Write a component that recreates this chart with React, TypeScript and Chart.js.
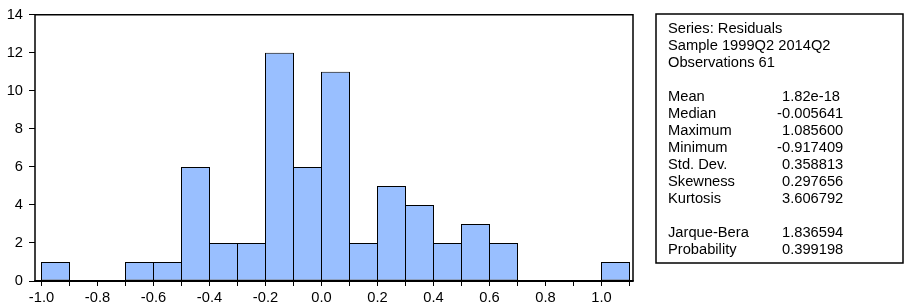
import React, { useEffect, useRef } from "react";
import { Chart, registerables } from "chart.js";

Chart.register(...registerables);

// ---- data ----
const binStarts = [-1.0, -0.9, -0.8, -0.7, -0.6, -0.5, -0.4, -0.3, -0.2, -0.1, 0.0, 0.1, 0.2, 0.3, 0.4, 0.5, 0.6, 0.7, 0.8, 0.9, 1.0];
const counts = [1, 0, 0, 1, 1, 6, 2, 2, 12, 6, 11, 2, 5, 4, 2, 3, 2, 0, 0, 0, 1];
const binWidth = 0.1;
const xTickValues = [-1.0, -0.9, -0.8, -0.7, -0.6, -0.5, -0.4, -0.3, -0.2, -0.1, 0.0, 0.1, 0.2, 0.3, 0.4, 0.5, 0.6, 0.7, 0.8, 0.9, 1.0, 1.1];
const xLabelValues = [-1.0, -0.8, -0.6, -0.4, -0.2, 0.0, 0.2, 0.4, 0.6, 0.8, 1.0];
const yTickValues = [0, 2, 4, 6, 8, 10, 12, 14];

const headerLines = ["Series: Residuals", "Sample 1999Q2 2014Q2", "Observations 61"];
const statLabels = ["Mean", "Median", "Maximum", "Minimum", "Std. Dev.", "Skewness", "Kurtosis"];
const statValues = ["1.82e-18", "-0.005641", "1.085600", "-0.917409", "0.358813", "0.297656", "3.606792"];
const testLabels = ["Jarque-Bera", "Probability"];
const testValues = ["1.836594", "0.399198"];

const FONT = "'Liberation Sans', Arial, Helvetica, sans-serif";
const FS = 14.7;

const framePlugin = {
  id: "frame",
  afterDatasetsDraw(chart: any) {
    const { ctx, chartArea } = chart;
    const { left, right, top, bottom } = chartArea;
    ctx.save();
    ctx.strokeStyle = "#000";
    ctx.lineWidth = 1.5;
    ctx.beginPath();
    ctx.moveTo(left, bottom);
    ctx.lineTo(left, top);
    ctx.lineTo(right, top);
    ctx.lineTo(right, bottom);
    ctx.stroke();
    ctx.lineWidth = 2;
    ctx.beginPath();
    ctx.moveTo(left - 0.75, bottom);
    ctx.lineTo(right + 0.75, bottom);
    ctx.stroke();
    ctx.restore();
  },
};

const statsPlugin = {
  id: "statsBox",
  afterDraw(chart: any) {
    const { ctx } = chart;
    const boxL = 656, boxT = 14, boxR = 903, boxB = 263;
    ctx.save();
    ctx.strokeStyle = "#000";
    ctx.lineWidth = 1.5;
    ctx.strokeRect(boxL, boxT, boxR - boxL, boxB - boxT);
    ctx.fillStyle = "#000";
    ctx.font = `${FS}px ${FONT}`;
    ctx.textBaseline = "alphabetic";
    ctx.textAlign = "left";
    const labelX = 668;
    const valueX = 782;
    const baseY = 33;
    const lh = 17;
    const minusW = ctx.measureText("-").width;
    const drawValue = (v: string, y: number) => {
      const x = v.startsWith("-") ? valueX - minusW : valueX;
      ctx.fillText(v, x, y);
    };
    headerLines.forEach((t, i) => ctx.fillText(t, labelX, baseY + lh * i));
    statLabels.forEach((t, i) => {
      const y = baseY + lh * (4 + i);
      ctx.fillText(t, labelX, y);
      drawValue(statValues[i], y);
    });
    testLabels.forEach((t, i) => {
      const y = baseY + lh * (12 + i);
      ctx.fillText(t, labelX, y);
      drawValue(testValues[i], y);
    });
    ctx.restore();
  },
};

export default function App() {
  const ref = useRef<HTMLCanvasElement | null>(null);

  useEffect(() => {
    if (!ref.current) return;
    Chart.defaults.font.family = FONT;
    Chart.defaults.color = "#000";
    const data = binStarts.map((s, i) => ({ x: s + binWidth / 2, y: counts[i] > 0 ? counts[i] : null }));
    const chart = new Chart(ref.current, {
      type: "bar",
      data: {
        datasets: [
          {
            data: data as any,
            backgroundColor: "#99bfff",
            borderColor: "#000",
            borderWidth: 1,
            borderSkipped: false,
            inflateAmount: 0,
            barPercentage: 1.0357,
            categoryPercentage: 1,
          } as any,
        ],
      },
      options: {
        animation: false,
        responsive: false,
        devicePixelRatio: 1,
        layout: { padding: { left: 0, top: 14, right: 279, bottom: 0 } },
        plugins: { legend: { display: false }, tooltip: { enabled: false } },
        scales: {
          x: {
            type: "linear",
            offset: false,
            min: -1.023214,
            max: 1.1125,
            afterBuildTicks: (scale: any) => {
              scale.ticks = xTickValues.map((v) => ({ value: v }));
            },
            afterFit: (scale: any) => {
              scale.height = 26;
            },
            border: { display: false },
            grid: { offset: false, drawOnChartArea: false, drawTicks: true, tickLength: 5, color: "#000", lineWidth: 1 },
            ticks: {
              autoSkip: false,
              maxRotation: 0,
              minRotation: 0,
              padding: 3,
              color: "#000",
              font: { size: FS, family: FONT },
              callback: (value: any) =>
                xLabelValues.some((l) => Math.abs(l - Number(value)) < 1e-6) ? Number(value).toFixed(1) : "",
            },
          },
          y: {
            type: "linear",
            min: 0,
            max: 14,
            afterBuildTicks: (scale: any) => {
              scale.ticks = yTickValues.map((v) => ({ value: v }));
            },
            afterFit: (scale: any) => {
              scale.width = 35;
            },
            border: { display: false },
            grid: { drawOnChartArea: false, drawTicks: true, tickLength: 6, color: "#000", lineWidth: 1 },
            ticks: {
              padding: 6,
              color: "#000",
              font: { size: FS, family: FONT },
              callback: (value: any) => String(value),
            },
          },
        },
      },
      plugins: [framePlugin, statsPlugin],
    });
    return () => chart.destroy();
  }, []);

  return (
    <div style={{ position: "fixed", left: 0, top: 0, width: 912, height: 307, background: "#fff" }}>
      <canvas ref={ref} width={912} height={307} style={{ display: "block", width: 912, height: 307 }} />
    </div>
  );
}
